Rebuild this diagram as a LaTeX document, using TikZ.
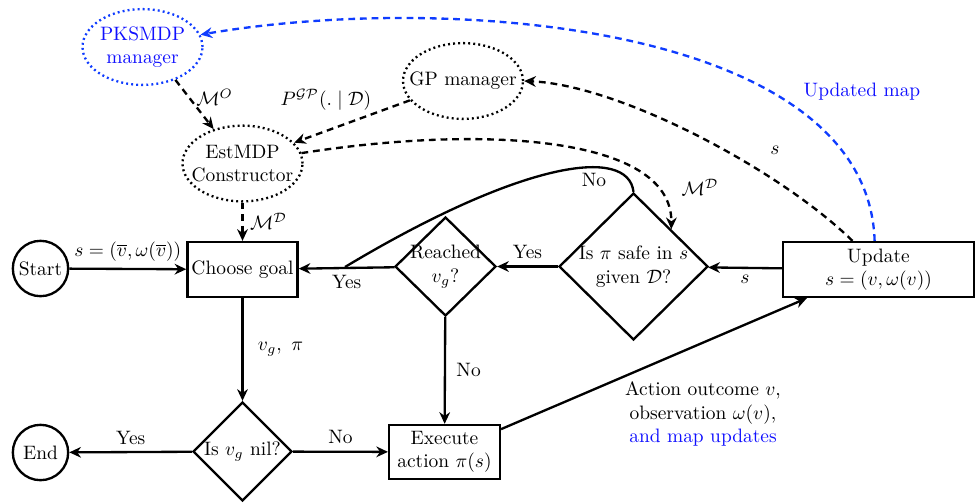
\documentclass[tikz,border=0pt]{standalone}
\usetikzlibrary{shapes.geometric,arrows.meta}
\definecolor{myblue}{RGB}{15,15,255}
\definecolor{lineblue}{RGB}{15,60,255}
\begin{document}
\begin{tikzpicture}[x=0.515pt,y=-0.515pt,
  line/.style={line width=1.2pt},
  arr/.style={line width=1.2pt,-{Stealth[length=6pt,width=5.5pt]}},
  darr/.style={arr,dash pattern=on 3.5pt off 2.5pt},
  boxnode/.style={draw,line width=1.2pt,rectangle,inner sep=1pt,align=center},
  dia/.style={draw,line width=1.2pt,diamond,inner sep=0pt},
  ell/.style={draw,line width=1.2pt,dash pattern=on 1pt off 1.6pt,ellipse,inner sep=0pt,minimum width=61.8pt,minimum height=39pt},
  circ/.style={draw,line width=1.2pt,circle,inner sep=0pt,minimum size=28.5pt},
]
\useasboundingbox (0,0) rectangle (976,503);

% nodes
\node[circ] (start) at (40.5,268.5) {Start};
\node[circ] (end) at (40.5,452.5) {End};
\node[boxnode,minimum width=56.7pt,minimum height=28.3pt] (choose) at (242.5,269.5) {Choose goal};
\node[dia,minimum width=52pt,minimum height=51pt,label={[align=center]center:Reached\\$v_g$?}] (reach) at (445.5,266.5) {};
\node[dia,minimum width=76.7pt,minimum height=75.7pt,label={[align=center]center:Is $\pi$ safe in $s$\\given $\mathcal{D}$?}] (safe) at (633.5,266.5) {};
\node[dia,minimum width=51pt,minimum height=51pt,label={center:Is $v_g$ nil?}] (nil) at (242.5,451.5) {};
\node[boxnode,minimum width=57pt,minimum height=27.8pt] (exec) at (444.5,452) {Execute\\action $\pi(s)$};
\node[boxnode,minimum width=98.4pt,minimum height=28.3pt] (update) at (878.5,269.5) {Update\\$s=(v,\omega(v))$};
\node[ell,lineblue,label={[myblue,align=center]center:PKSMDP\\manager}] (pks) at (142.5,47) {};
\node[ell,label={center:GP manager}] (gp) at (463,81) {};
\node[ell,label={[align=center]center:EstMDP\\Constructor}] (est) at (242.5,163.5) {};

% solid connectors
\draw[arr] (start) -- node[above]{$s=(\overline{v},\omega(\overline{v}))$} (choose);
\draw[arr] (choose) -- node[right,xshift=4pt]{$v_g,~\pi$} (nil);
\draw[arr] (nil) -- node[above]{Yes} (end);
\draw[arr] (nil) -- node[above]{No} (exec);
\draw[arr] (reach) -- node[right,xshift=2pt]{No} (exec);
\draw[arr] (update) -- node[below]{$s$} (safe);
\draw[arr] (safe) -- node[above]{Yes} (reach);
\draw[arr] (reach) -- node[below]{Yes} (choose);
\coordinate (join) at (345,267);
\draw[line] (safe.north) .. controls (628,145) and (520,162) .. (join);
\node (nolbl) at (594,180) {No};
\draw[arr] (exec.22) -- ([xshift=12.9pt]update.south west);
\node[align=center] (actlbl) at (703,414) {Action outcome $v$,\\observation $\omega(v)$,\\\textcolor{myblue}{and map updates}};

% dashed connectors
\draw[darr] (pks.-45) -- node[right,pos=0.35]{$\mathcal{M}^O$} (est.130);
\draw[darr] (gp.200) -- (est.22);
\node (gplbl) at (326,100) {$P^{\mathcal{GP}}(.\mid\mathcal{D})$};
\draw[darr] (est.10) .. controls (480,125) and (672,135) .. (safe.north east);
\node (mdlbl) at (700,187) {$\mathcal{M}^{\mathcal{D}}$};
\draw[darr] (est) -- node[right]{$\mathcal{M}^{\mathcal{D}}$} (choose);
\draw[darr] ([xshift=-13.4pt]update.north) .. controls (780,170) and (620,85) .. (gp.east);
\node (slbl) at (775,150) {$s$};
\draw[darr,lineblue] ([xshift=-2pt]update.north) .. controls (868,25) and (450,-8) .. (pks.12);
\node[myblue] (maplbl) at (862,92) {Updated map};
\end{tikzpicture}
\end{document}
